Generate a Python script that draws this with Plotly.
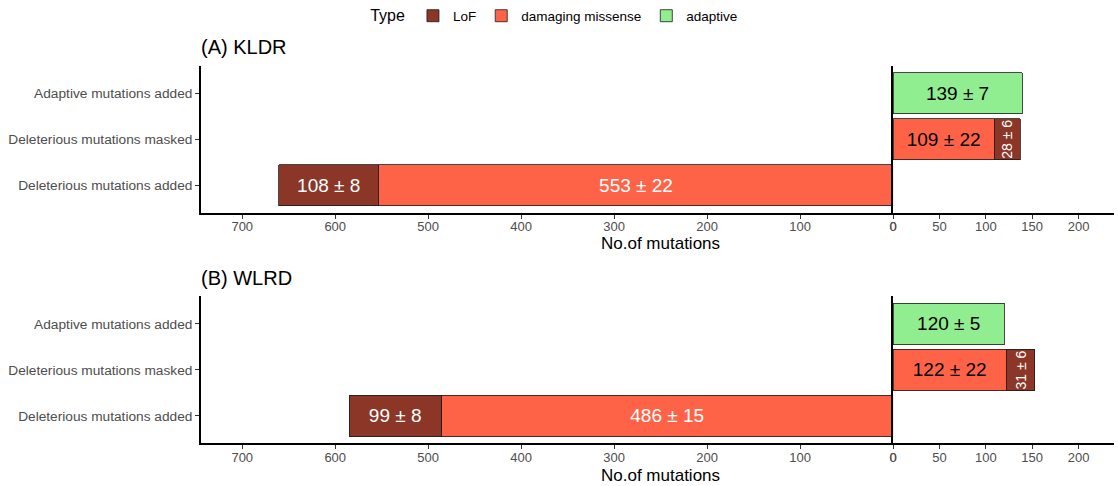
import plotly.graph_objects as go

# ---------------- data ----------------
panels = ["(A) KLDR", "(B) WLRD"]
categories = ["Deleterious mutations added", "Deleterious mutations masked", "Adaptive mutations added"]
types = ["LoF", "damaging missense", "adaptive"]

lof_added = [108, 99]
lof_added_sd = [8, 8]
mis_added = [553, 486]
mis_added_sd = [22, 15]
mis_masked = [109, 122]
mis_masked_sd = [22, 22]
lof_masked = [28, 31]
lof_masked_sd = [6, 6]
adaptive = [139, 120]
adaptive_sd = [7, 5]

left_ticks = [0, 100, 200, 300, 400, 500, 600, 700]
right_ticks = [0, 50, 100, 150, 200]

# ---------------- style ----------------
W, H = 1118, 486
FONT = "Liberation Sans, Arial, Helvetica, sans-serif"
col = {"LoF": "#8B3626", "damaging missense": "#FF6347", "adaptive": "#90EE90"}
outline = dict(color="#1a1a1a", width=0.8)

x_left = [198.3 / W, 895.5 / W]
x_right = [895.5 / W, 1.0]
y_dom = [[1 - 211.7 / H, 1 - 64 / H], [1 - 443.3 / H, 1 - 295.6 / H]]

fig = go.Figure()


def lab(m, s):
    return f"{m} \u00b1 {s}"


for p in range(2):
    xl = "x" if p == 0 else "x3"
    yl = "y" if p == 0 else "y3"
    xr = "x2" if p == 0 else "x4"
    yr = "y2" if p == 0 else "y4"
    show = p == 0
    # left facet: deleterious added
    fig.add_trace(go.Bar(
        y=[categories[0]], x=[mis_added[p]], orientation="h", xaxis=xl, yaxis=yl,
        marker=dict(color=col["damaging missense"], line=outline),
        text=[lab(mis_added[p], mis_added_sd[p])], textposition="inside",
        insidetextanchor="middle", textangle=0, constraintext="none",
        textfont=dict(color="white", size=19, family=FONT),
        name="damaging missense", legendgroup="mis", showlegend=False, hoverinfo="skip"))
    fig.add_trace(go.Bar(
        y=[categories[0]], x=[lof_added[p]], orientation="h", xaxis=xl, yaxis=yl,
        marker=dict(color=col["LoF"], line=outline),
        text=[lab(lof_added[p], lof_added_sd[p])], textposition="inside",
        insidetextanchor="middle", textangle=0, constraintext="none",
        textfont=dict(color="white", size=19, family=FONT),
        name="LoF", legendgroup="lof", showlegend=False, hoverinfo="skip"))
    # right facet: masked + adaptive
    fig.add_trace(go.Bar(
        y=[categories[1]], x=[mis_masked[p]], orientation="h", xaxis=xr, yaxis=yr,
        marker=dict(color=col["damaging missense"], line=outline),
        text=[lab(mis_masked[p], mis_masked_sd[p])], textposition="inside",
        insidetextanchor="middle", textangle=0, constraintext="none",
        textfont=dict(color="black", size=19, family=FONT),
        name="damaging missense", legendgroup="mis", showlegend=show, legendrank=2,
        hoverinfo="skip"))
    fig.add_trace(go.Bar(
        y=[categories[1]], x=[lof_masked[p]], orientation="h", xaxis=xr, yaxis=yr,
        marker=dict(color=col["LoF"], line=outline),
        text=[lab(lof_masked[p], lof_masked_sd[p])], textposition="inside",
        insidetextanchor="middle", textangle=-90, constraintext="none",
        textfont=dict(color="white", size=14, family=FONT),
        name="LoF", legendgroup="lof", showlegend=show, legendrank=1, hoverinfo="skip"))
    fig.add_trace(go.Bar(
        y=[categories[2]], x=[adaptive[p]], orientation="h", xaxis=xr, yaxis=yr,
        marker=dict(color=col["adaptive"], line=outline),
        text=[lab(adaptive[p], adaptive_sd[p])], textposition="inside",
        insidetextanchor="middle", textangle=0, constraintext="none",
        textfont=dict(color="black", size=19, family=FONT),
        name="adaptive", legendgroup="ada", showlegend=show, legendrank=3, hoverinfo="skip"))

xtickfont = dict(size=13, color="#4D4D4D", family=FONT)
ytickfont = dict(size=13.7, color="#4D4D4D", family=FONT)
common_x = dict(showline=True, linecolor="black", linewidth=1.5, ticks="outside",
                ticklen=4, tickwidth=1, tickcolor="#333333", showgrid=False,
                zeroline=False, tickfont=xtickfont, fixedrange=True,
                ticklabelstandoff=-3)
common_y = dict(type="category", categoryorder="array", categoryarray=categories,
                range=[-0.6, 2.6], showgrid=False, zeroline=False, fixedrange=True)

layout = dict(
    width=W, height=H, autosize=False, margin=dict(l=0, r=0, t=0, b=0, pad=0),
    paper_bgcolor="white", plot_bgcolor="white",
    barmode="stack", bargap=0.1,
    font=dict(family=FONT, color="black"),
    showlegend=True,
    legend=dict(orientation="h", x=0.497, xanchor="center", y=1 - 14 / H, yanchor="middle",
                title=dict(text="Type", font=dict(size=16, color="black"), side="left"),
                font=dict(size=13.5, color="black"), itemwidth=30,
                bgcolor="rgba(0,0,0,0)"),
)

for p in range(2):
    i = 2 * p
    xl = "xaxis" if i == 0 else f"xaxis{i + 1}"
    xr = f"xaxis{i + 2}"
    yl = "yaxis" if i == 0 else f"yaxis{i + 1}"
    yr = f"yaxis{i + 2}"
    ylab = "y" if i == 0 else f"y{i + 1}"
    yrab = f"y{i + 2}"
    xlab = "x" if i == 0 else f"x{i + 1}"
    xrab = f"x{i + 2}"
    layout[xl] = dict(common_x, domain=x_left, anchor=ylab, range=[744.5, 0],
                      tickvals=left_ticks, ticktext=[str(v) for v in left_ticks])
    layout[xr] = dict(common_x, domain=x_right, anchor=yrab, range=[0, 238.2],
                      tickvals=right_ticks, ticktext=[str(v) for v in right_ticks])
    layout[yl] = dict(common_y, domain=y_dom[p], anchor=xlab, showline=True,
                      linecolor="black", linewidth=1.5, ticks="outside", ticklen=4,
                      tickcolor="#333333", tickfont=ytickfont, showticklabels=True)
    layout[yr] = dict(common_y, domain=y_dom[p], anchor=xrab, showline=True,
                      linecolor="black", linewidth=2, ticks="", showticklabels=False)

fig.update_layout(**layout)

# panel titles and axis titles
title_y = [45.5, 277]
axis_title_y = [242, 475]
for p in range(2):
    fig.add_annotation(text=panels[p], xref="paper", yref="paper", x=196 / W,
                       y=1 - title_y[p] / H, xanchor="left", yanchor="middle",
                       showarrow=False, font=dict(size=20, color="black", family=FONT))
    fig.add_annotation(text="No.of mutations", xref="paper", yref="paper",
                       x=661.5 / W, y=1 - axis_title_y[p] / H,
                       xanchor="center", yanchor="middle", showarrow=False,
                       font=dict(size=17, color="black", family=FONT))

fig.write_html("out.html", config={"displayModeBar": False, "responsive": False},
               post_script="document.body.style.margin='0px';document.body.style.overflow='hidden';")
